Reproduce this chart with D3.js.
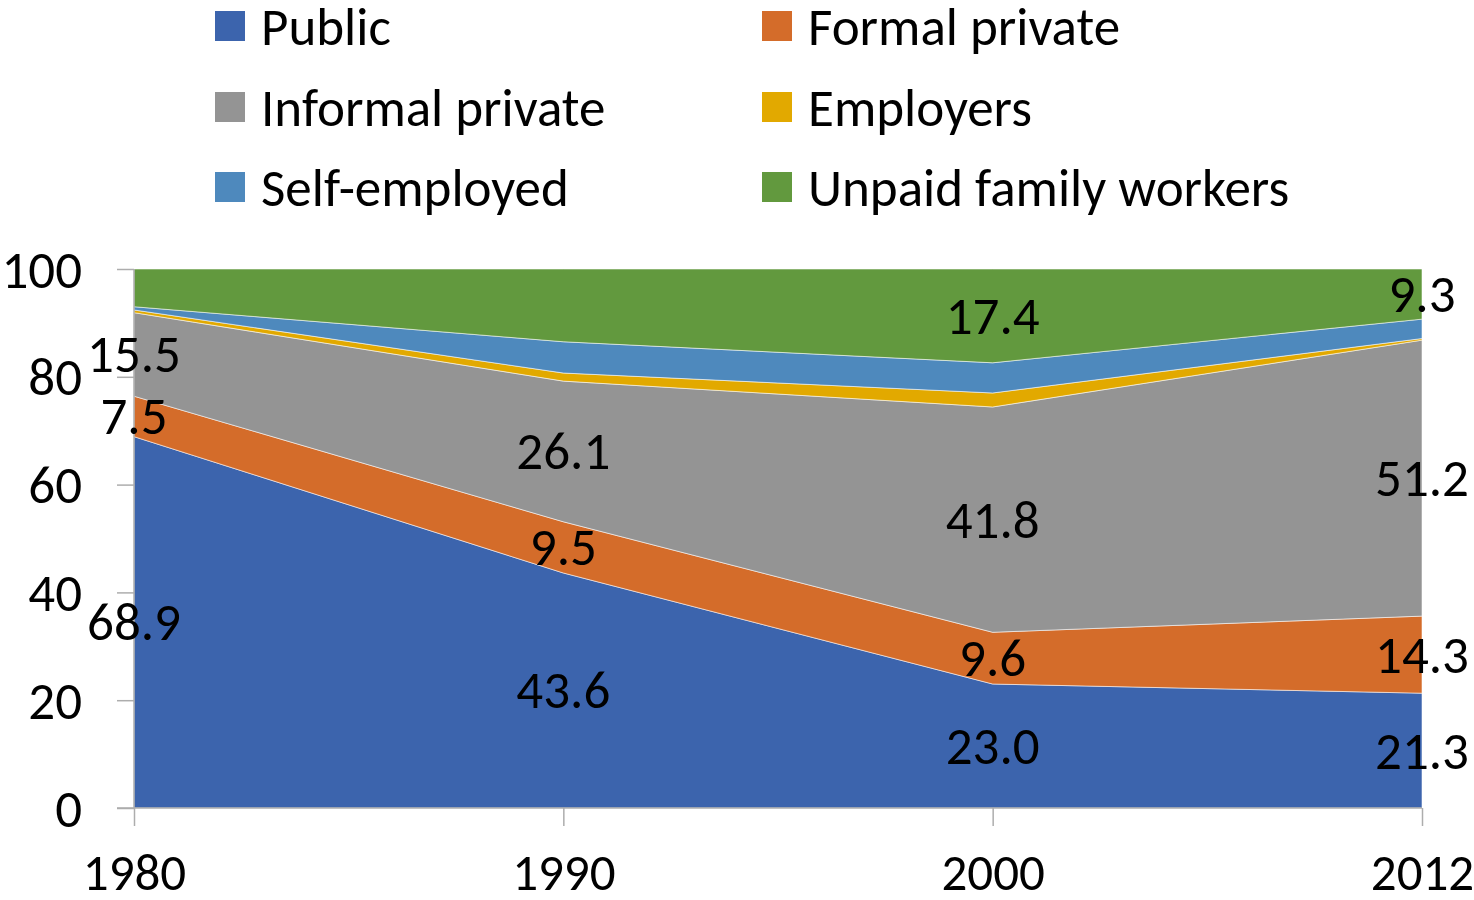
<!DOCTYPE html>
<html><head><meta charset="utf-8">
<script src="https://cdn.jsdelivr.net/npm/d3@7"></script>
<style>
html,body{margin:0;padding:0;background:#fff;}
svg{display:block;font-family:Calibri,Carlito,Lato,sans-serif;}
</style></head>
<body>
<svg id="chart" width="1474" height="900"></svg>
<script>
const years = ["1980","1990","2000","2012"];
const seriesNames = ["Public","Formal private","Informal private","Employers","Self-employed","Unpaid family workers"];
const publicVals   = [68.9, 43.6, 23.0, 21.3];
const formalVals   = [7.5, 9.5, 9.6, 14.3];
const informalVals = [15.5, 26.1, 41.8, 51.2];
const employerVals = [0.5, 1.5, 2.6, 0.3];
const selfVals     = [0.6, 5.8, 5.6, 3.6];
const unpaidVals   = [7.0, 13.5, 17.4, 9.3];
const yTicks = [0, 20, 40, 60, 80, 100];
const colors = ["#3C64AD","#D46C2A","#949494","#E2A900","#4E89BD","#62993E"];
// which labels are shown per series (index into years)
const showLabels = [[0,1,2,3],[0,1,2,3],[0,1,2,3],[],[],[2,3]];

const FS = 53;
const allVals = [publicVals, formalVals, informalVals, employerVals, selfVals, unpaidVals];
const table = years.map((y,i)=>{
  const row = {year:y};
  seriesNames.forEach((s,k)=>row[s]=allVals[k][i]);
  return row;
});

const svg = d3.select("#chart");
const x = d3.scalePoint().domain(years).range([134, 1422]);
const y = d3.scaleLinear().domain([0,100]).range([808, 269]);

const layers = d3.stack().keys(seriesNames)(table);

const area = d3.area()
  .x(d=>x(d.data.year))
  .y0(d=>y(d[0]))
  .y1(d=>y(d[1]));

svg.append("g").selectAll("path").data(layers).join("path")
  .attr("d", area)
  .attr("fill", (d,i)=>colors[i])
  .attr("stroke", "rgba(255,255,255,0.55)")
  .attr("stroke-width", 1);

// axes
const axisColor = "#ADADAD";
const yAxis = svg.append("g").attr("transform","translate(134,0)")
  .call(d3.axisLeft(y).tickValues(yTicks).tickSize(17).tickPadding(35).tickFormat(d3.format("d")));
yAxis.select(".domain").attr("stroke", axisColor).attr("stroke-width",1.5).attr("d","M0,269V808");
yAxis.selectAll(".tick line").attr("stroke", axisColor).attr("stroke-width",1.5);
yAxis.selectAll(".tick text").attr("font-size",FS).attr("fill","#000")
  .attr("dy", null).attr("dominant-baseline","central")
  .attr("font-family","Calibri,Carlito,Lato,sans-serif");

const xAxis = svg.append("g").attr("transform","translate(0,808)")
  .call(d3.axisBottom(x).tickSize(18).tickPadding(30));
xAxis.select(".domain").attr("stroke", axisColor).attr("stroke-width",1.5).attr("d","M117,0H1422");
xAxis.selectAll(".tick line").attr("stroke", axisColor).attr("stroke-width",1.5);
xAxis.selectAll(".tick text").attr("font-size",51).attr("fill","#000")
  .attr("y", 64).attr("dy", null).attr("dominant-baseline","central")
  .attr("font-family","Calibri,Carlito,Lato,sans-serif");

// data labels
const labelG = svg.append("g");
layers.forEach((layer,k)=>{
  showLabels[k].forEach(i=>{
    const d = layer[i];
    labelG.append("text")
      .attr("x", x(d.data.year))
      .attr("y", y((d[0]+d[1])/2))
      .attr("text-anchor","middle")
      .attr("dominant-baseline","central")
      .attr("font-size",FS)
      .attr("fill","#000")
      .text(d3.format(".1f")(d.data[seriesNames[k]]));
  });
});

// legend
const legendCols = [215, 762];
const legendRows = [26, 107, 187];
const lg = svg.append("g");
seriesNames.forEach((s,k)=>{
  const cx = legendCols[k%2], cy = legendRows[Math.floor(k/2)];
  lg.append("rect").attr("x",cx).attr("y",cy-15).attr("width",30).attr("height",30).attr("fill",colors[k]);
  lg.append("text").attr("x",cx+46).attr("y",cy+1).attr("dominant-baseline","central")
    .attr("font-size",FS).attr("fill","#000").text(s);
});
</script>
</body></html>
